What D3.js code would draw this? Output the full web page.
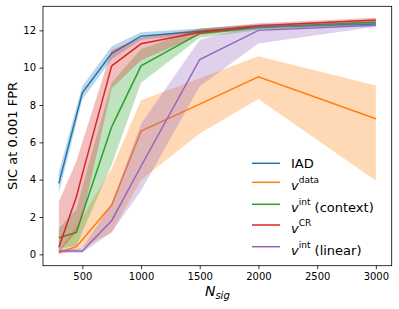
<html>
<meta name="viewport" content="width=device-width, initial-scale=1">
    <head>
        <script src="https://d3js.org/d3.v7.js"></script>
        <style>
            body { margin: 0; background: white; }
            text { font-family: "DejaVu Sans", sans-serif; fill: #000; }
        </style>
    </head>

    <body>
        <svg width="399" height="309"></svg>

        <script>
            // N_sig values shared by all curves
            var nsig = [300, 450, 500, 750, 1000, 1500, 2000, 3000];

            var iadMean = [3.8, 7.45, 8.65, 10.77, 11.69, 11.95, 12.2, 12.34];
            var iadLo   = [3.3, 7.05, 8.3, 10.45, 11.5, 11.8, 12.08, 12.22];
            var iadHi   = [4.4, 7.9, 9.0, 11.15, 11.9, 12.1, 12.3, 12.45];

            var dataMean = [0.1, 0.41, 0.78, 2.64, 6.6, 8.05, 9.51, 7.26];
            var dataLo   = [0.0, 0.2, 0.35, 1.15, 3.98, 6.48, 8.32, 3.94];
            var dataHi   = [0.22, 1.5, 2.0, 4.6, 8.26, 9.44, 10.62, 9.05];

            var ctxMean = [0.89, 1.17, 2.15, 6.83, 10.1, 11.84, 12.16, 12.44];
            var ctxLo   = [0.3, 0.45, 1.2, 4.8, 9.2, 11.6, 12.0, 12.35];
            var ctxHi   = [1.4, 2.4, 3.6, 9.2, 11.0, 12.1, 12.32, 12.55];

            var crMean = [0.38, 3.1, 4.3, 10.1, 11.28, 11.9, 12.25, 12.55];
            var crLo   = [0.1, 1.2, 2.0, 8.9, 10.4, 11.75, 12.12, 12.45];
            var crHi   = [2.82, 5.0, 6.0, 10.95, 11.6, 12.08, 12.38, 12.68];

            var linMean = [0.18, 0.18, 0.18, 1.8, 4.72, 10.44, 12.0, 12.28];
            var linLo   = [0.08, 0.08, 0.08, 1.2, 3.4, 9.0, 11.3, 12.2];
            var linHi   = [0.3, 0.3, 0.35, 2.7, 7.0, 11.5, 12.3, 12.4];

            var xTicks = [500, 1000, 1500, 2000, 2500, 3000];
            var yTicks = [0, 2, 4, 6, 8, 10, 12];

            var series = [
                {mean: iadMean, lo: iadLo, hi: iadHi, color: "#1f77b4", name: "IAD", sup: null, rest: ""},
                {mean: dataMean, lo: dataLo, hi: dataHi, color: "#ff7f0e", name: "v", sup: "data", rest: ""},
                {mean: ctxMean, lo: ctxLo, hi: ctxHi, color: "#2ca02c", name: "v", sup: "int", rest: " (context)"},
                {mean: crMean, lo: crLo, hi: crHi, color: "#d62728", name: "v", sup: "CR", rest: ""},
                {mean: linMean, lo: linLo, hi: linHi, color: "#9467bd", name: "v", sup: "int", rest: " (linear)"}
            ];

            var mLeft = 43, mRight = 391.7, mTop = 6.3, mBottom = 265.7;

            var x = d3.scaleLinear().domain([165, 3135]).range([mLeft, mRight]);
            var y = d3.scaleLinear().domain([-0.61, 13.29]).range([mBottom, mTop]);

            var mySvg = d3.select("svg");
            var plot = mySvg.append("g").attr("id", "plot");

            series.forEach(function(s) {
                var pts = nsig.map(function(n, i) { return {n: n, m: s.mean[i], lo: s.lo[i], hi: s.hi[i]}; });

                var area = d3.area()
                    .x(function(d) { return x(d.n); })
                    .y0(function(d) { return y(d.lo); })
                    .y1(function(d) { return y(d.hi); });
                var line = d3.line()
                    .x(function(d) { return x(d.n); })
                    .y(function(d) { return y(d.m); });

                plot.append("path")
                    .attr("d", area(pts))
                    .style("fill", s.color)
                    .style("fill-opacity", 0.3)
                    .style("stroke", "none");
                plot.append("path")
                    .attr("d", line(pts))
                    .style("fill", "none")
                    .style("stroke", s.color)
                    .style("stroke-width", 1.5);
            });

            // axes
            var xAxis = mySvg.append("g")
                .attr("transform", "translate(0," + mBottom + ")")
                .call(d3.axisBottom(x).tickValues(xTicks).tickFormat(d3.format("d")).tickSize(3.5).tickPadding(3.5));
            var yAxis = mySvg.append("g")
                .attr("transform", "translate(" + mLeft + ",0)")
                .call(d3.axisLeft(y).tickValues(yTicks).tickFormat(d3.format("d")).tickSize(3.5).tickPadding(3.5));

            [xAxis, yAxis].forEach(function(a) {
                a.select(".domain").remove();
                a.selectAll("line").style("stroke", "#000").style("stroke-width", 0.8);
                a.selectAll("text").style("font-size", "10px").style("font-family", "DejaVu Sans");
            });

            // frame
            mySvg.append("rect")
                .attr("x", mLeft).attr("y", mTop)
                .attr("width", mRight - mLeft).attr("height", mBottom - mTop)
                .style("fill", "none")
                .style("stroke", "#000")
                .style("stroke-width", 0.8);

            // axis labels
            var xl = mySvg.append("text")
                .attr("x", (mLeft + mRight) / 2)
                .attr("y", 296)
                .attr("text-anchor", "middle")
                .style("font-size", "14px");
            xl.append("tspan").style("font-style", "italic").text("N");
            xl.append("tspan").style("font-style", "italic").style("font-size", "10px")
                .attr("dy", "3").text("sig");

            mySvg.append("text")
                .attr("transform", "translate(17," + ((mTop + mBottom) / 2) + ") rotate(-90)")
                .attr("text-anchor", "middle")
                .style("font-size", "13px")
                .text("SIC at 0.001 FPR");

            // legend
            var legendY = [163.3, 182.3, 204.3, 225, 246.7];
            var legend = mySvg.append("g").attr("id", "legend");
            series.forEach(function(s, i) {
                var ly = legendY[i];
                legend.append("line")
                    .attr("x1", 252).attr("x2", 280)
                    .attr("y1", ly).attr("y2", ly)
                    .style("stroke", s.color)
                    .style("stroke-width", 1.5);
                var t = legend.append("text")
                    .attr("x", 291)
                    .attr("y", ly + (s.sup ? 8 : 5))
                    .style("font-size", "13px");
                if (s.sup) {
                    t.append("tspan").style("font-style", "italic").text(s.name);
                    t.append("tspan").style("font-size", "9px").attr("dy", "-7").text(s.sup);
                    if (s.rest) t.append("tspan").attr("dy", "7").text(s.rest);
                } else {
                    t.text(s.name);
                }
            });
        </script>

    </body>
</html>
